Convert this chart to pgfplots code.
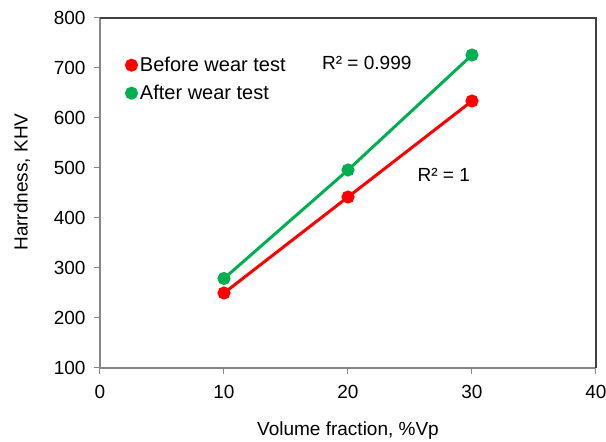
\documentclass[border=0pt]{standalone}
\usepackage{pgfplots}
\pgfplotsset{compat=1.18}
\usepackage{fontspec}
\setmainfont{Liberation Sans}
\definecolor{xlgreen}{RGB}{0,176,80}
\definecolor{axgray}{RGB}{134,134,134}
\begin{document}
\begin{tikzpicture}[x=1pt,y=1pt]
\begin{axis}[
  at={(0,0)}, anchor=south west,
  scale only axis,
  width=496pt, height=350pt,
  xmin=0, xmax=40, ymin=100, ymax=800,
  xtick={0,10,20,30,40}, ytick={100,200,...,800},
  tick align=outside, tick pos=left,
  major tick length=6pt,
  tick style={axgray, line width=1pt},
  separate axis lines,
  x axis line style={draw=none},
  y axis line style={draw=none},
  font=\fontsize{19}{22}\selectfont,
  ticklabel style={font=\fontsize{19}{22}\selectfont},
  /pgf/number format/assume math mode=true,
  yticklabel style={xshift=-5pt},
  xticklabel style={yshift=-8pt},
  xlabel={Volume fraction, \%Vp},
  ylabel={Harrdness, KHV},
  every axis x label/.style={at={(axis cs:20,100)}, yshift=-63pt, anchor=center},
  every axis y label/.style={at={(axis cs:0,800)}, xshift=-78pt, yshift=-164pt, anchor=center, rotate=90},
  legend style={draw=none, fill=none, at={(axis cs:2.0,726)}, anchor=north west, font=\fontsize{20}{23}\selectfont, row sep=8pt, inner xsep=0pt, inner ysep=0pt},
  legend cell align=left,
  legend image code/.code={\fill[#1] (0.2cm,0cm) circle (5pt);},
  clip=false,
]
\draw[axgray, line width=1.2pt] (axis cs:0,800) -- (axis cs:0,100) -- (axis cs:40,100);
\draw[black!75, line width=1.6pt] (axis cs:0,800) -- (axis cs:40,800) -- (axis cs:40,100);
\addplot[color=red, line width=3pt, mark=*, mark size=5pt, mark options={fill=red}] coordinates {(10,250) (20,442) (30,634)};
\addlegendentry{Before wear test}
\addplot[color=xlgreen, line width=3pt, mark=*, mark size=5pt, mark options={fill=xlgreen}] coordinates {(10,279) (20,496) (30,726)};
\addlegendentry{After wear test}
\node[anchor=west, inner sep=0pt, font=\fontsize{19}{22}\selectfont] at (axis cs:17.9,710) {R² = 0.999};
\node[anchor=west, inner sep=0pt, font=\fontsize{19}{22}\selectfont] at (axis cs:25.6,486) {R² = 1};
\end{axis}
\pgfresetboundingbox
\path (-100,-74) rectangle (506,368);
\end{tikzpicture}
\end{document}
